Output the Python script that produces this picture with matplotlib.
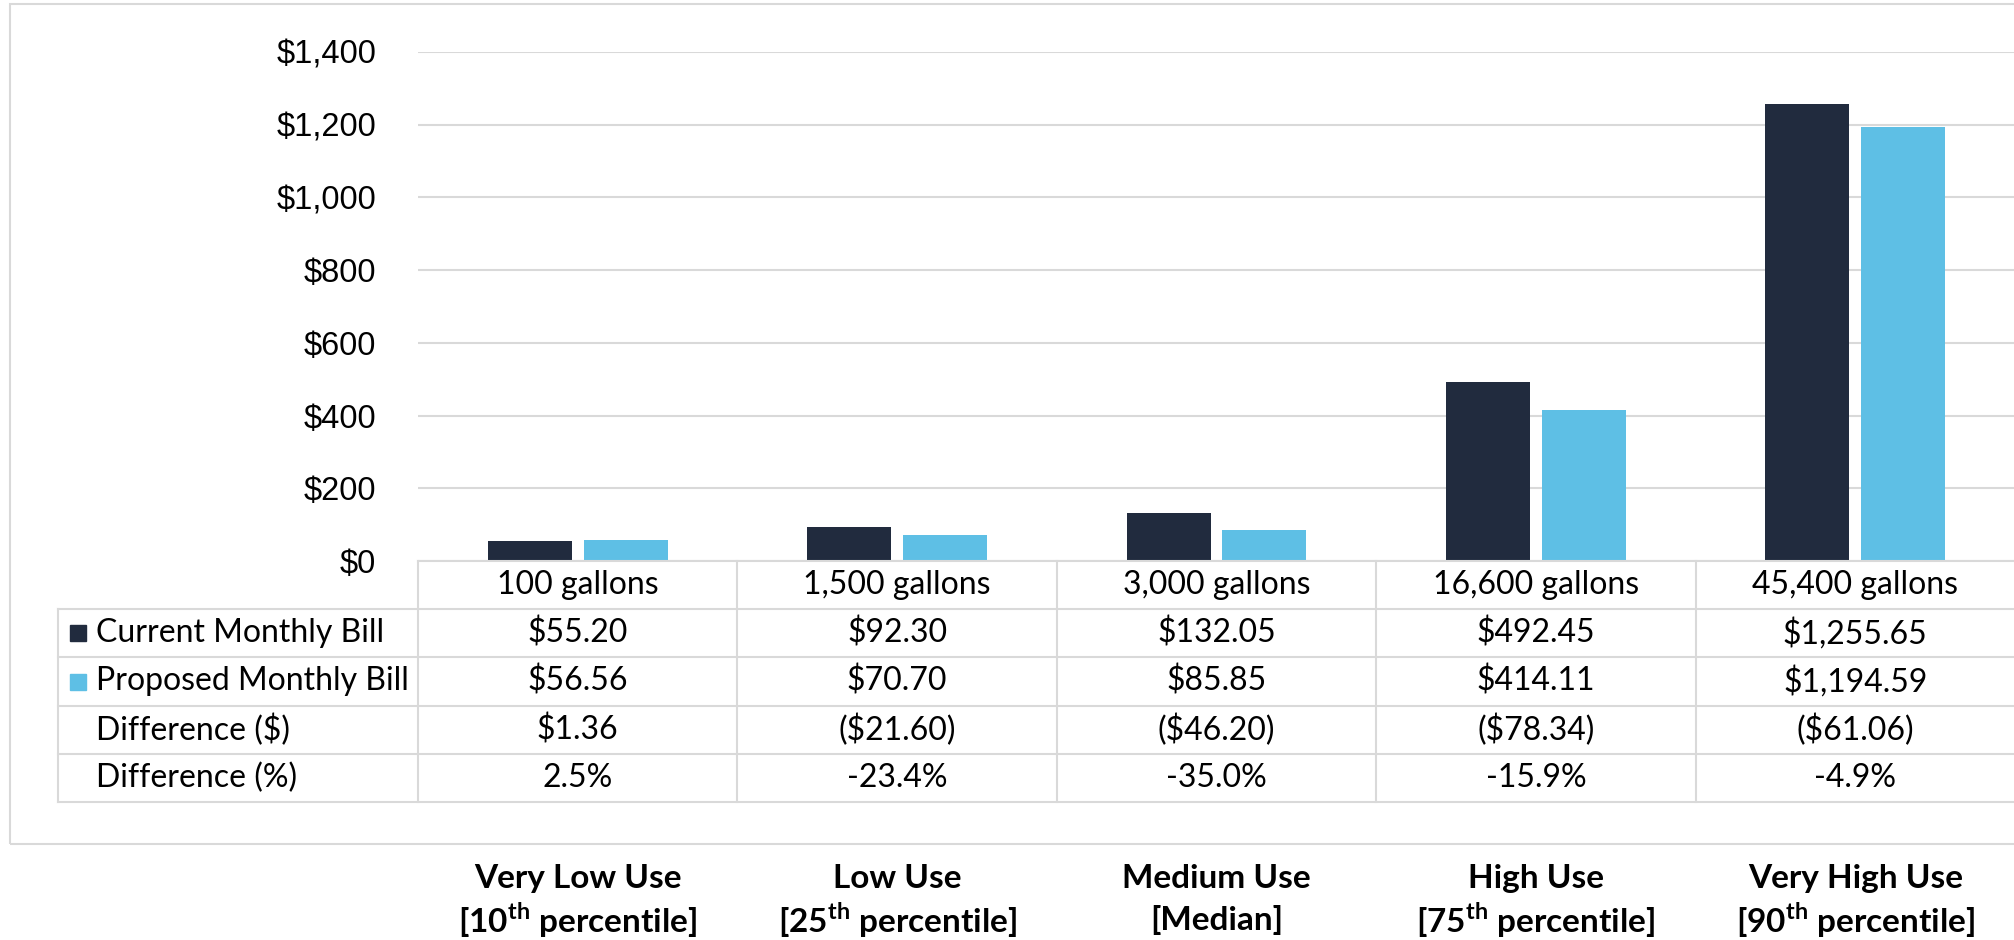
import numpy as np
import matplotlib.pyplot as plt
from matplotlib.patches import Rectangle

# data
usage = ['100 gallons', '1,500 gallons', '3,000 gallons', '16,600 gallons', '45,400 gallons']
current = [55.20, 92.30, 132.05, 492.45, 1255.65]
proposed = [56.56, 70.70, 85.85, 414.11, 1194.59]
diff_dollar = ['$1.36', '($21.60)', '($46.20)', '($78.34)', '($61.06)']
diff_pct = ['2.5%', '-23.4%', '-35.0%', '-15.9%', '-4.9%']
row_names = ['Current Monthly Bill', 'Proposed Monthly Bill', 'Difference ($)', 'Difference (%)']
groups = ['Very Low Use', 'Low Use', 'Medium Use', 'High Use', 'Very High Use']
pctl = [r'[10$^{\mathbf{th}}$ percentile]', r'[25$^{\mathbf{th}}$ percentile]', '[Median]',
        r'[75$^{\mathbf{th}}$ percentile]', r'[90$^{\mathbf{th}}$ percentile]']
yticks = [0, 200, 400, 600, 800, 1000, 1200, 1400]

dark = '#212b3e'
light = '#5ebfe5'
grid = '#d9d9d9'

plt.rcParams['mathtext.fontset'] = 'custom'
plt.rcParams['mathtext.rm'] = 'Lato'
plt.rcParams['mathtext.bf'] = 'Lato:bold'

W, H = 2015, 940
fig = plt.figure(figsize=(W / 100, H / 100), dpi=100)

# outer frame
fig.patches.append(Rectangle((10 / W, 1 - 844 / H), 1.2, 840 / H, transform=fig.transFigure,
                             fill=False, ec=grid, lw=1.5))

ax_l, ax_top, ax_bot = 418, 52, 561
ax = fig.add_axes([ax_l / W, 1 - ax_bot / H, 1 - ax_l / W, (ax_bot - ax_top) / H])
x = np.arange(len(usage))
ax.bar(x - 0.15, current, width=0.2625, color=dark, zorder=3)
ax.bar(x + 0.15, proposed, width=0.2625, color=light, zorder=3)
ax.set_xlim(-0.5, 4.5)
ax.set_ylim(0, 1400)
ax.set_yticks(yticks)
ax.set_yticklabels([f'${v:,}' for v in yticks], fontsize=23.5, family='Liberation Sans')
ax.tick_params(axis='y', length=0, pad=30)
ax.set_xticks([])
ax.grid(axis='y', color=grid, lw=1.5, zorder=0)
for s in ax.spines.values():
    s.set_visible(False)

# data table under the chart
cw = (W - ax_l) / 5
tab_l, tab_bot = 58, 802
x0 = -0.5 - (ax_l - tab_l) / cw
tab = fig.add_axes([tab_l / W, 1 - tab_bot / H, 1 - tab_l / W, (tab_bot - ax_bot) / H])
tab.set_xlim(x0, 4.5)
tab.set_ylim(5, 0)
tab.axis('off')

lk = dict(color=grid, lw=1.5, clip_on=False)
tab.plot([-0.5, 4.5], [0, 0], **lk)
for r in range(1, 6):
    tab.plot([x0, 4.5], [r, r], **lk)
tab.plot([x0, x0], [1, 5], **lk)
for c in range(5):
    tab.plot([c - 0.5, c - 0.5], [0, 5], **lk)

tf = dict(fontsize=23, family='Lato', ha='center', va='center', color='black')
for i in range(5):
    tab.text(i, 0.5, usage[i], **tf)
    tab.text(i, 1.5, f'${current[i]:,.2f}', **tf)
    tab.text(i, 2.5, f'${proposed[i]:,.2f}', **tf)
    tab.text(i, 3.5, diff_dollar[i], **tf)
    tab.text(i, 4.5, diff_pct[i], **tf)

lx = x0 + (96 - tab_l) / cw
for r, name in enumerate(row_names):
    tab.text(lx, r + 1.5, name, fontsize=23, family='Lato', ha='left', va='center', color='black')
tab.plot([x0 + 20 / cw], [1.5], marker='s', ms=11, color=dark, ls='none')
tab.plot([x0 + 20 / cw], [2.5], marker='s', ms=11, color=light, ls='none')

# category labels below the frame
for i in range(5):
    tab.text(i, 6.58, groups[i], fontsize=24, family='Lato', weight='bold',
             ha='center', va='center', clip_on=False)
    tab.text(i, 7.45, pctl[i], fontsize=24, family='Lato', weight='bold',
             ha='center', va='center', clip_on=False)

fig.savefig('out.png', dpi=100)
